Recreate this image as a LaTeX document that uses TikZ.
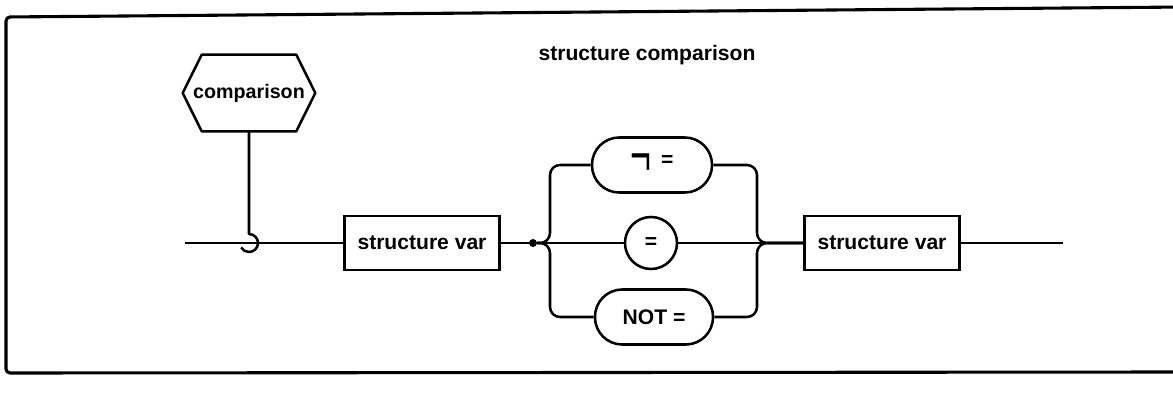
\documentclass[tikz,border=0pt]{standalone}
\usepackage{fontspec}
\setmainfont{Liberation Sans}
\usepackage{tikz}
\usetikzlibrary{calc}

\tikzset{
  wire/.style={line width=1.8pt, line join=round},
  termbox/.style={draw, line width=1.8pt, minimum width=3.875cm, minimum height=1.35cm, inner sep=0pt},
  pill/.style={draw, line width=1.8pt, rounded corners=0.68cm, minimum width=3cm, minimum height=1.375cm, inner sep=0pt},
  litcirc/.style={draw, circle, line width=1.8pt, minimum size=1.3cm, inner sep=0pt},
  hexlabel/.style={minimum width=3.3cm, minimum height=1.9cm, inner sep=0pt},
  diagfont/.style={font=\fontsize{15}{17}\selectfont\bfseries}
}

\begin{document}
\begin{tikzpicture}[x=0.025cm, y=0.025cm, diagfont]
    % Page size and frame
    \useasboundingbox (0,0) rectangle (1173,396);
    \clip (0,0) rectangle (1173,396);
    \draw[line width=2.2pt, rounded corners=0.1cm] (1185,389) -- (6,379) -- (6,23) -- (1185,24);
    % Title
    \node (title) at (647,341) {structure comparison};
    % Main line points
    \coordinate (start) at (185,153);
    \coordinate (hook)  at (249,162);   % top of the hook
    \coordinate (lsplit) at (550,153);  % left brace
    \coordinate (rjoin)  at (757,153);  % right brace
    \coordinate (stop)  at (1063,153);
    % Nodes
    \node[hexlabel, font=\fontsize{14}{16}\selectfont\bfseries] (cmp) at (249,303) {comparison};
    \node[termbox] (lbox) at (422,153) {structure var};
    \node[fill, circle, inner sep=0pt, minimum size=0.2cm] (fork) at (533,153) {};
    \node[pill] (ne) at (652,231) {\raisebox{-0.45em}{\scalebox{1.7}[2.8]{\mdseries ¬}}\, =};
    \node[litcirc] (eq) at (651,153) {=};
    \node[pill, minimum width=2.95cm] (nt) at (654,79) {NOT =};
    \node[termbox] (rbox) at (882,153) {structure var};
    % Hexagon round the comparison label
    \draw[wire] ($(cmp.north west)+(19,0)$) -- ($(cmp.north east)-(19,0)$) -- (cmp.east)
      -- ($(cmp.south east)-(19,0)$) -- ($(cmp.south west)+(19,0)$) -- (cmp.west) -- cycle;
    % Hook onto the main line
    \draw[wire] (cmp.south) -- (hook) arc[start angle=90, end angle=-150, radius=0.225cm];
    % Main line
    \draw[wire] (start) -- (lbox.west);
    \draw[wire] (lbox.east) -- (fork);
    \draw[wire] (fork) -- (eq.west);
    \draw[wire] (eq.east) -- (rbox.west);
    \draw[wire] (rbox.east) -- (stop);
    % Alternatives
    \foreach \alt in {ne, nt} {
      \draw[wire, rounded corners=0.25cm] (fork) -- (lsplit) |- (\alt.west);
      \draw[wire, rounded corners=0.25cm] (\alt.east) -| (rjoin) -- (rbox.west);
    }
  \end{tikzpicture}
\end{document}
